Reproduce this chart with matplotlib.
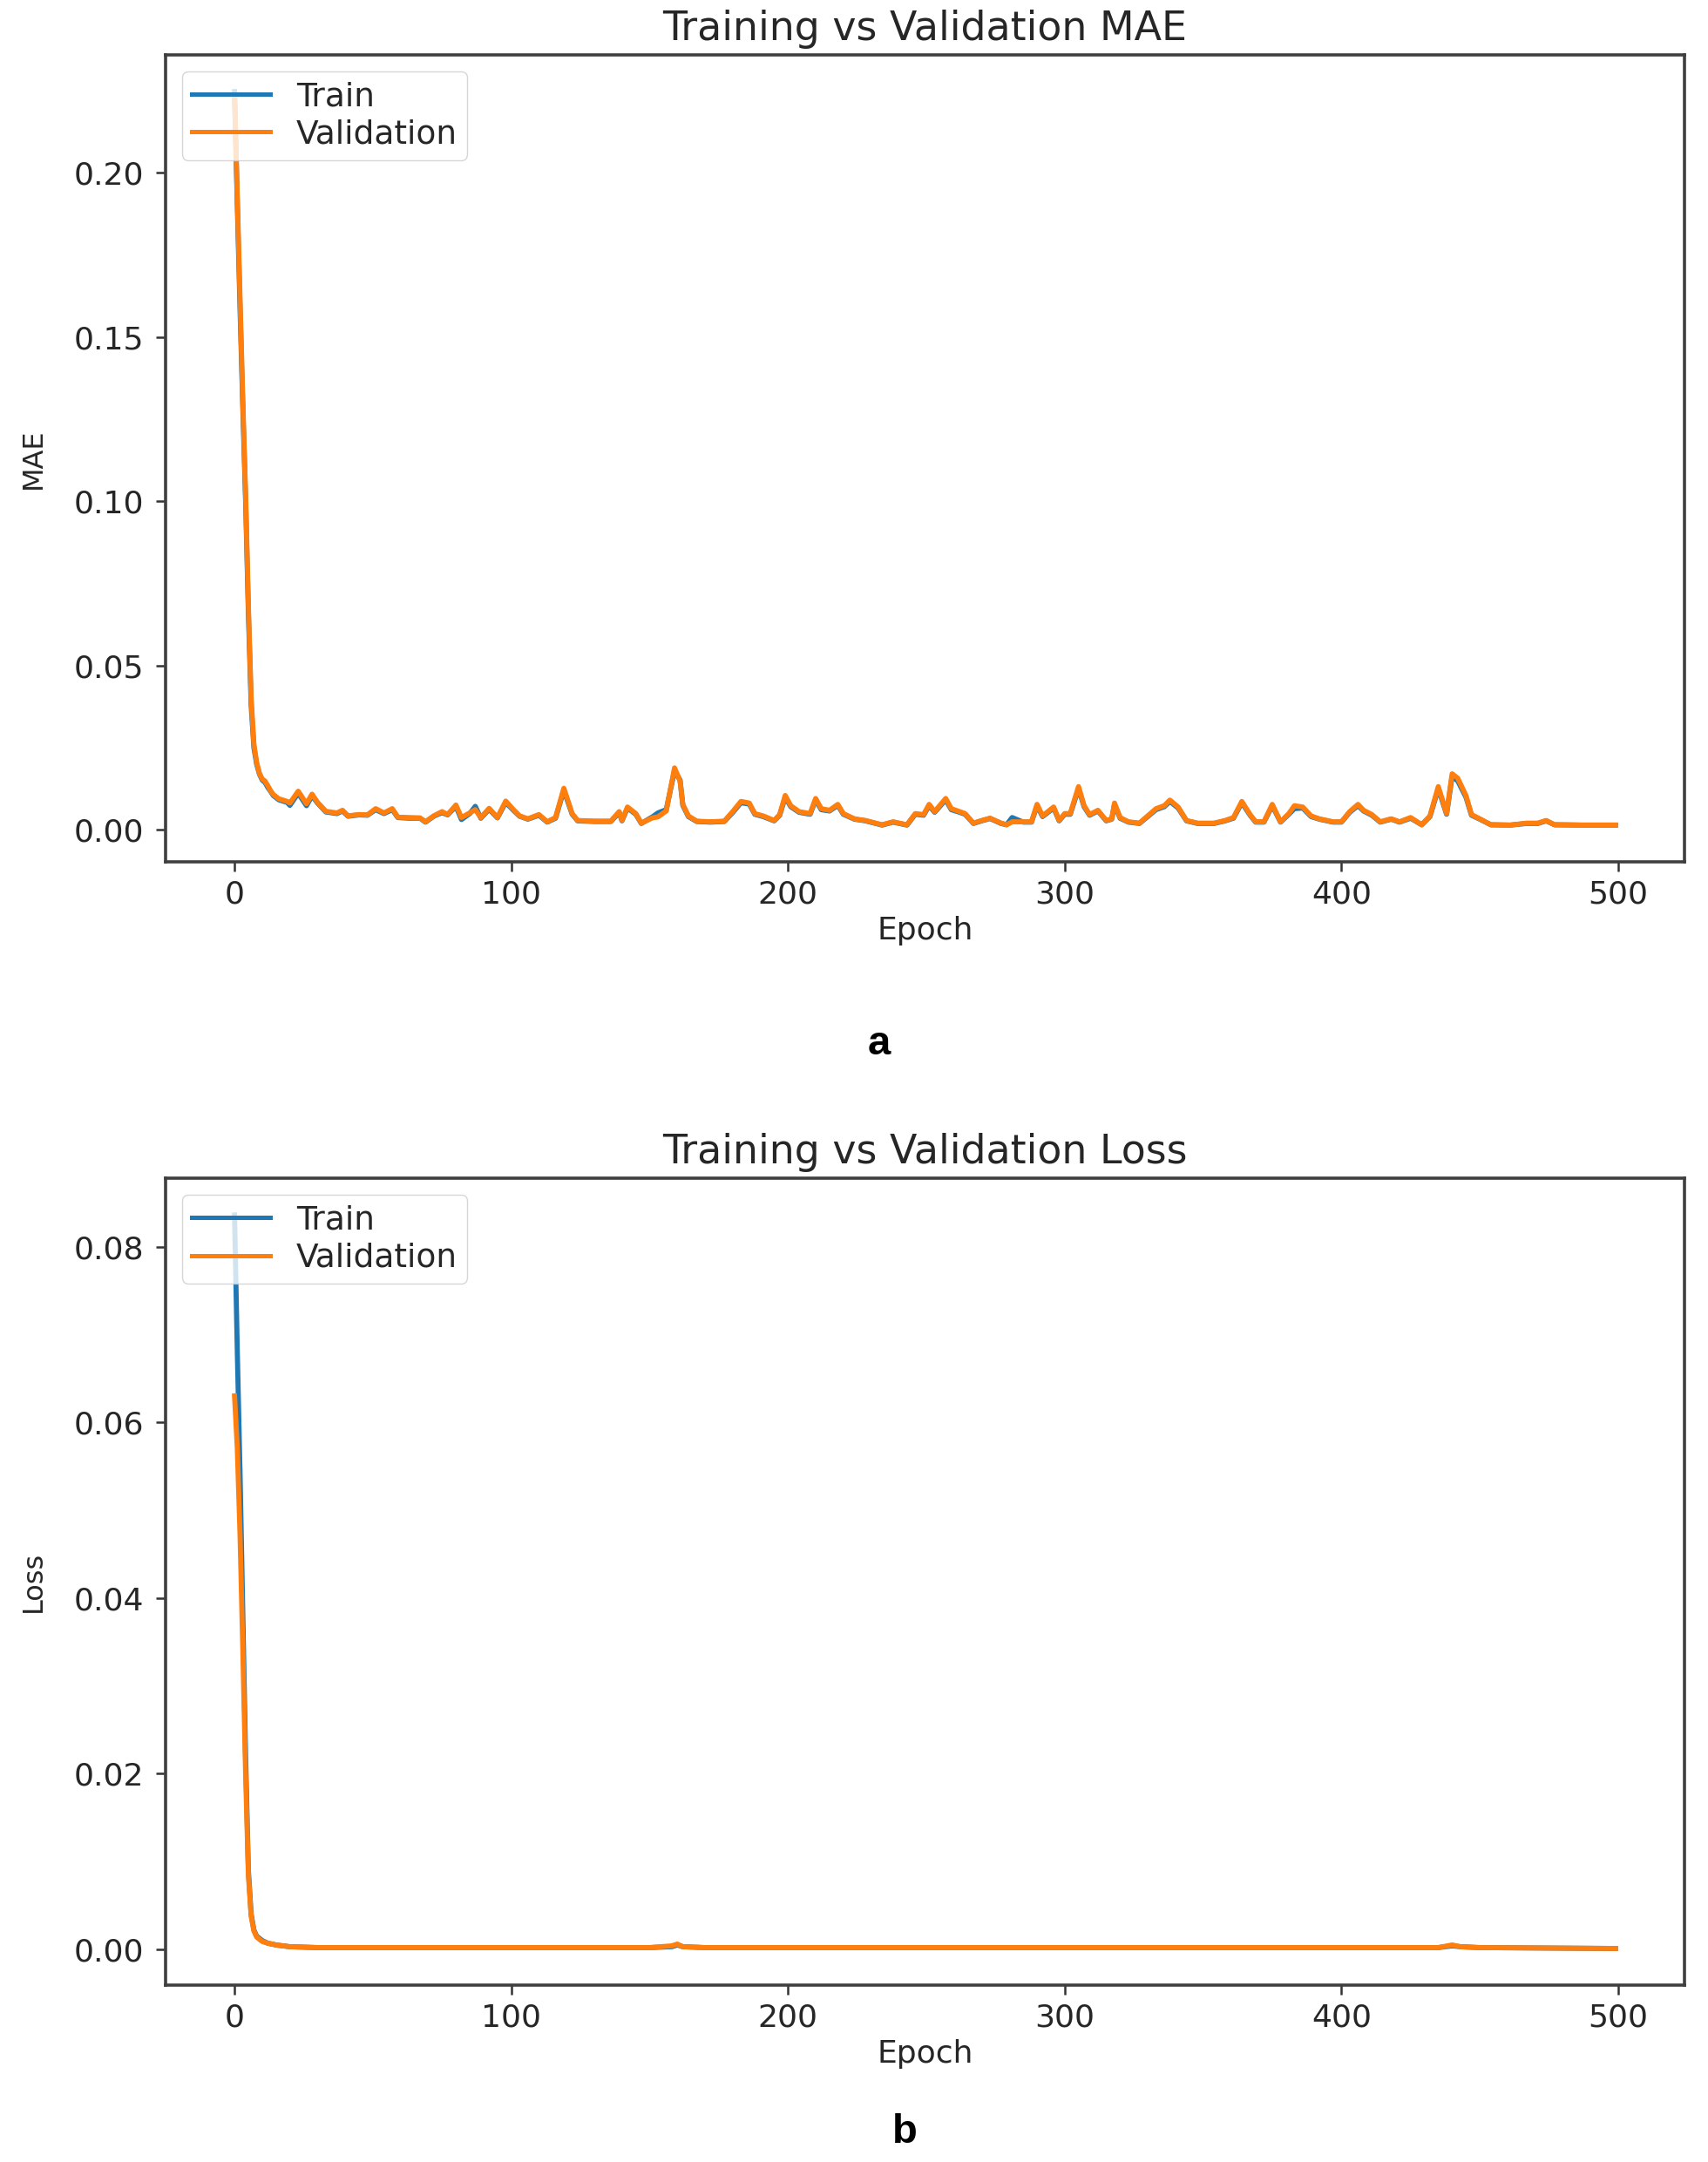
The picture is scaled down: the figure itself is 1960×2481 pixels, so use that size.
import matplotlib
matplotlib.use("Agg")
import matplotlib.pyplot as plt

# ---------------- data ----------------
mae_epochs = [0, 1, 2, 3, 4, 5, 6, 7, 8, 9, 10, 11, 12, 13, 14, 16, 19, 20, 23, 26,
              28, 30, 33, 37, 39, 41, 45, 48, 51, 54, 57, 59, 63, 67, 69, 72, 75, 77, 80, 82,
              85, 87, 89, 92, 95, 98, 101, 103, 106, 110, 113, 116, 119, 122, 124, 130, 136, 139, 140, 142,
              145, 147, 151, 153, 156, 159, 161, 162, 164, 167, 172, 177, 180, 183, 186, 188, 191, 195, 197, 199,
              201, 204, 208, 210, 212, 215, 218, 220, 224, 228, 234, 238, 243, 246, 249, 251, 253, 257, 259, 262,
              264, 267, 270, 273, 277, 279, 281, 285, 288, 290, 292, 296, 298, 300, 302, 305, 307, 309, 312, 315,
              317, 318, 320, 323, 327, 330, 333, 336, 338, 341, 344, 348, 354, 358, 361, 364, 367, 369, 372, 375,
              378, 381, 383, 386, 389, 392, 397, 400, 403, 406, 408, 411, 414, 418, 421, 425, 429, 432, 435, 438,
              440, 442, 445, 447, 450, 454, 461, 467, 471, 474, 477, 487, 499]

mae_val = [0.2235, 0.192, 0.160, 0.130, 0.102, 0.068, 0.040, 0.026, 0.0205, 0.0172, 0.0155, 0.0149, 0.0135, 0.0120, 0.0108, 0.0095, 0.0087, 0.0082, 0.0118, 0.0080,
           0.0109, 0.0084, 0.0057, 0.0052, 0.0060, 0.0043, 0.0047, 0.0046, 0.0065, 0.0052, 0.0065, 0.0039, 0.0038, 0.0037, 0.0025, 0.0043, 0.0056, 0.0047, 0.0076, 0.0038,
           0.0052, 0.0062, 0.0038, 0.0066, 0.0038, 0.0088, 0.0060, 0.0043, 0.0034, 0.0047, 0.0025, 0.0038, 0.0127, 0.0050, 0.0029, 0.0027, 0.0027, 0.0056, 0.0029, 0.0070,
           0.0050, 0.0021, 0.0037, 0.0040, 0.0058, 0.0189, 0.0149, 0.0078, 0.0043, 0.0027, 0.0025, 0.0027, 0.0056, 0.0087, 0.0082, 0.0050, 0.0043, 0.0029, 0.0047, 0.0105,
           0.0074, 0.0056, 0.0050, 0.0096, 0.0065, 0.0060, 0.0078, 0.0050, 0.0034, 0.0029, 0.0016, 0.0025, 0.0016, 0.0050, 0.0047, 0.0078, 0.0056, 0.0096, 0.0065, 0.0056,
           0.0050, 0.0021, 0.0029, 0.0036, 0.0021, 0.0016, 0.0025, 0.0025, 0.0025, 0.0078, 0.0043, 0.0070, 0.0029, 0.0050, 0.0050, 0.0132, 0.0074, 0.0047, 0.0060, 0.0029,
           0.0034, 0.0082, 0.0038, 0.0025, 0.0021, 0.0043, 0.0065, 0.0074, 0.0091, 0.0070, 0.0029, 0.0021, 0.0021, 0.0029, 0.0038, 0.0087, 0.0047, 0.0025, 0.0025, 0.0078,
           0.0025, 0.0050, 0.0074, 0.0070, 0.0043, 0.0034, 0.0025, 0.0025, 0.0056, 0.0078, 0.0060, 0.0047, 0.0025, 0.0034, 0.0025, 0.0038, 0.0016, 0.0043, 0.0132, 0.0050,
           0.0171, 0.0158, 0.0105, 0.0047, 0.0034, 0.0016, 0.0015, 0.0021, 0.0021, 0.0029, 0.0016, 0.0015, 0.0015]

mae_train = [0.2246, 0.190, 0.158, 0.128, 0.100, 0.066, 0.038, 0.025, 0.0200, 0.0170, 0.0152, 0.0145, 0.0130, 0.0118, 0.0105, 0.0092, 0.0084, 0.0075, 0.0112, 0.0074,
             0.0104, 0.0082, 0.0055, 0.0050, 0.0058, 0.0042, 0.0046, 0.0045, 0.0062, 0.0050, 0.0062, 0.0038, 0.0036, 0.0036, 0.0024, 0.0042, 0.0053, 0.0046, 0.0072, 0.0032,
             0.0050, 0.0072, 0.0036, 0.0063, 0.0037, 0.0084, 0.0058, 0.0042, 0.0033, 0.0045, 0.0024, 0.0036, 0.0121, 0.0048, 0.0028, 0.0026, 0.0026, 0.0053, 0.0028, 0.0067,
             0.0048, 0.0020, 0.0040, 0.0052, 0.0062, 0.0180, 0.0152, 0.0075, 0.0041, 0.0026, 0.0024, 0.0026, 0.0053, 0.0083, 0.0079, 0.0048, 0.0041, 0.0028, 0.0045, 0.0100,
             0.0071, 0.0054, 0.0048, 0.0092, 0.0062, 0.0058, 0.0075, 0.0048, 0.0033, 0.0028, 0.0015, 0.0024, 0.0015, 0.0048, 0.0045, 0.0074, 0.0054, 0.0092, 0.0062, 0.0054,
             0.0048, 0.0020, 0.0028, 0.0035, 0.0020, 0.0016, 0.0038, 0.0024, 0.0024, 0.0074, 0.0041, 0.0067, 0.0028, 0.0048, 0.0048, 0.0126, 0.0071, 0.0045, 0.0058, 0.0028,
             0.0033, 0.0078, 0.0036, 0.0024, 0.0020, 0.0041, 0.0062, 0.0071, 0.0087, 0.0067, 0.0028, 0.0020, 0.0020, 0.0028, 0.0036, 0.0083, 0.0045, 0.0024, 0.0024, 0.0074,
             0.0024, 0.0048, 0.0065, 0.0067, 0.0041, 0.0033, 0.0024, 0.0024, 0.0054, 0.0074, 0.0058, 0.0045, 0.0024, 0.0033, 0.0024, 0.0036, 0.0016, 0.0041, 0.0126, 0.0048,
             0.0163, 0.0150, 0.0100, 0.0045, 0.0033, 0.0016, 0.0015, 0.0020, 0.0020, 0.0028, 0.0016, 0.0015, 0.0015]

loss_epochs = [0, 1, 2, 3, 4, 5, 6, 7, 8, 10, 12, 15, 20, 30, 60, 100, 150, 158, 160, 162,
               170, 250, 300, 400, 435, 440, 443, 450, 499]
loss_train = [0.0836, 0.068, 0.054, 0.038, 0.022, 0.0090, 0.0040, 0.0022, 0.0015, 0.0010, 0.0007, 0.0005, 0.0003, 0.0002, 0.0002, 0.0002, 0.0002, 0.0003, 0.0005, 0.0003,
              0.0002, 0.0002, 0.0002, 0.0002, 0.0002, 0.0004, 0.0003, 0.0002, 0.0001]
loss_val = [0.0630, 0.057, 0.047, 0.034, 0.020, 0.0085, 0.0038, 0.0021, 0.0014, 0.0009, 0.0007, 0.0005, 0.0003, 0.0002, 0.0002, 0.0002, 0.0002, 0.0004, 0.0006, 0.0003,
            0.0002, 0.0002, 0.0002, 0.0002, 0.0002, 0.0005, 0.0003, 0.0002, 0.0001]

x_ticks = [0, 100, 200, 300, 400, 500]
mae_ticks = [0.00, 0.05, 0.10, 0.15, 0.20]
loss_ticks = [0.00, 0.02, 0.04, 0.06, 0.08]

assert len(mae_epochs) == len(mae_val) == len(mae_train)
assert len(loss_epochs) == len(loss_val) == len(loss_train)

# ---------------- figure ----------------
plt.rcParams['font.family'] = ['DejaVu Sans']
TXT = '#262626'
fig = plt.figure(figsize=(19.6, 24.81), dpi=100)

ax1 = fig.add_axes([0.0969, 0.6014, 0.8893, 0.3732])
ax2 = fig.add_axes([0.0969, 0.0818, 0.8893, 0.3732])

panels = [
    (ax1, mae_epochs, mae_train, mae_val, mae_ticks, 'MAE', 'Training vs Validation MAE', '{:.2f}'),
    (ax2, loss_epochs, loss_train, loss_val, loss_ticks, 'Loss', 'Training vs Validation Loss', '{:.2f}'),
]

for ax, ep, tr, va, yt, ylab, title, fmt in panels:
    ax.plot(ep, tr, color='#1f77b4', lw=4.2, label='Train')
    ax.plot(ep, va, color='#ff7f0e', lw=4.2, label='Validation')
    ax.set_xticks(x_ticks)
    ax.set_yticks(yt)
    ax.set_yticklabels([fmt.format(v) for v in yt])
    ax.tick_params(axis='both', labelsize=26, length=8, width=1.8, colors='#333333', labelcolor=TXT)
    ax.tick_params(axis='x', pad=7)
    ax.tick_params(axis='y', pad=10)
    for s in ax.spines.values():
        s.set_linewidth(2.6)
        s.set_color('#3f3f3f')
    ax.set_xlabel('Epoch', fontsize=26, color=TXT, labelpad=5)
    ax.set_ylabel(ylab, fontsize=23, color=TXT)
    ax.yaxis.set_label_coords(-0.078, 0.5)
    ax.set_title(title, fontsize=33, color=TXT, pad=12)
    leg = ax.legend(loc='upper left', fontsize=27, handlelength=2.4, handletextpad=0.8,
                    labelspacing=0.2, borderpad=0.3, borderaxespad=0.5)
    for t in leg.get_texts():
        t.set_color(TXT)
    for l in leg.get_lines():
        l.set_linewidth(3.6)

fig.text(1009 / 1960, 1 - 1198 / 2481, 'a', fontsize=34, fontweight='bold',
         family=['Liberation Sans', 'DejaVu Sans'], ha='center', va='center')
fig.text(1038 / 1960, 1 - 2447 / 2481, 'b', fontsize=34, fontweight='bold',
         family=['Liberation Sans', 'DejaVu Sans'], ha='center', va='center')

fig.savefig('out.png', dpi=100, facecolor='white')
